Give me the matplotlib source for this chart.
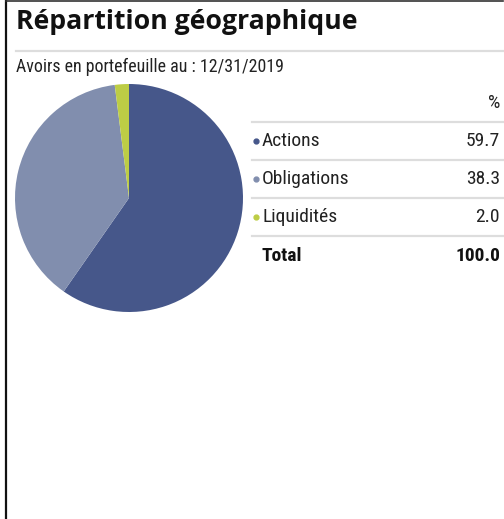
import matplotlib
matplotlib.use("Agg")
import matplotlib.pyplot as plt

# holdings breakdown
categories = ["Actions", "Obligations", "Liquidités"]
weights = [59.7, 38.3, 2.0]
total = 100.0
colors = ["#46578A", "#818EAE", "#BDCD45"]

title = "Répartition géographique"
subtitle = "Avoirs en portefeuille au : 12/31/2019"

narrow = ["Roboto Condensed", "Archivo Narrow", "Liberation Sans Narrow", "DejaVu Sans"]
fs = 14

W, H = 504, 519
fig = plt.figure(figsize=(W / 100, H / 100), dpi=100)

# overlay in pixel coordinates for text and rules
ov = fig.add_axes([0, 0, 1, 1])
ov.set_xlim(0, W)
ov.set_ylim(H, 0)
ov.axis("off")

ov.plot([6, 6], [0, H], color="#111111", lw=1.6)
ov.plot([6, 503], [0.8, 0.8], color="#333333", lw=1.2)
ov.plot([16, 503], [51, 51], color="#dddddd", lw=1.6)

ov.text(16, 22, title, fontsize=19.2, fontweight="bold", family="Open Sans",
        va="center", ha="left", color="#111111")
ov.text(16, 67, subtitle, fontsize=12.9, family=narrow, va="center", ha="left",
        color="#222222")

# table
x0, x1 = 252, 503
xr = 500
ov.text(xr, 103, "%", fontsize=fs, family=narrow, ha="right", va="center", color="#222222")
rule_y = [122, 160, 198, 236]
for y in rule_y:
    ov.plot([x0, x1], [y, y], color="#dddddd", lw=1.6)
row_y = [141, 179, 217]
for name, w, c, y in zip(categories, weights, colors, row_y):
    ov.plot(256, y, "o", color=c, ms=3.5)
    ov.text(262, y, name, fontsize=fs, family=narrow, ha="left", va="center", color="#222222")
    ov.text(xr, y, f"{w:.1f}", fontsize=fs, family=narrow, ha="right", va="center", color="#222222")
ov.text(262, 256, "Total", fontsize=fs, family=narrow, fontweight="bold",
        ha="left", va="center", color="#111111")
ov.text(xr, 256, f"{total:.1f}", fontsize=fs, family=narrow, fontweight="bold",
        ha="right", va="center", color="#111111")

# pie, centre (129, 198), radius 114 px
cx, cy, r = 129, 198, 114
pa = fig.add_axes([(cx - r) / W, 1 - (cy + r) / H, 2 * r / W, 2 * r / H])
pa.pie(weights, colors=colors, startangle=90, counterclock=False,
       wedgeprops=dict(linewidth=0))
pa.set_xlim(-1, 1)
pa.set_ylim(-1, 1)
pa.set_aspect("equal")

fig.savefig("out.png", dpi=100)
